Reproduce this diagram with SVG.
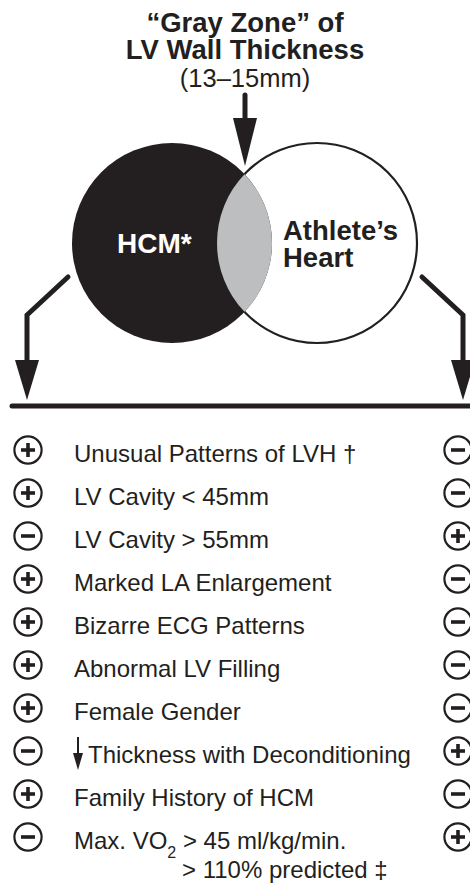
<svg xmlns="http://www.w3.org/2000/svg" xmlns:xlink="http://www.w3.org/1999/xlink" width="470" height="884" viewBox="0 0 470 884">
<style>
.t{font-family:"Liberation Sans",Arial,Helvetica,sans-serif;fill:#231f20}
.b{font-weight:bold;font-size:27.5px}
.r{font-size:24px}
.conn{fill:none;stroke:#231f20;stroke-width:5;stroke-linecap:round;stroke-linejoin:miter}
.sg{fill:#fff;stroke:#231f20;stroke-width:2.2}
.sl{stroke:#231f20;stroke-width:3.6;stroke-linecap:butt}
</style>
<defs>
<marker id="ah" markerUnits="userSpaceOnUse" viewBox="0 0 40 24" refX="8" refY="12" markerWidth="40" markerHeight="24" orient="auto">
<path d="M0,0 L40,12 L0,24 Z" fill="#231f20"/>
</marker>
<marker id="ahTop" markerUnits="userSpaceOnUse" viewBox="0 0 48 24" refX="8" refY="12" markerWidth="48" markerHeight="24" orient="auto">
<path d="M0,0 L48,12 L0,24 Z" fill="#231f20"/>
</marker>
<g id="plus"><circle class="sg" cx="0" cy="0" r="13.6"/><line class="sl" x1="-7" y1="0" x2="7" y2="0"/><line class="sl" x1="0" y1="-7" x2="0" y2="7"/></g>
<g id="minus"><circle class="sg" cx="0" cy="0" r="13.6"/><line class="sl" x1="-7" y1="0" x2="7" y2="0"/></g>
</defs>
<rect width="470" height="884" fill="#fff"/>

<g id="title">
<text class="t b" x="245" y="32" text-anchor="middle">“Gray Zone” of</text>
<text class="t b" x="245" y="59" text-anchor="middle">LV Wall Thickness</text>
<text class="t r" x="245" y="87" text-anchor="middle" style="font-size:25.5px">(13–15mm)</text>
</g>

<g id="athletes-heart">
<circle cx="317" cy="243" r="100" fill="#fff" stroke="#231f20" stroke-width="2.2"/>
<text class="t b" x="283" y="240">Athlete’s</text>
<text class="t b" x="283" y="267">Heart</text>
</g>
<g id="hcm">
<circle cx="172" cy="243" r="100" fill="#231f20"/>
<text class="t b" x="117" y="253" style="fill:#fff;font-size:28px">HCM*</text>
</g>
<g id="gray-zone">
<path d="M244.5,174.13 A100,100 0 0,0 244.5,311.87 A100,100 0 0,0 244.5,174.13 Z" fill="#bcbec0"/>
</g>

<g id="connectors">
<line class="conn" x1="245" y1="95" x2="245" y2="126" stroke-linecap="butt" marker-end="url(#ahTop)"/>
<polyline class="conn" points="68,277 27,315 27,368" marker-end="url(#ah)"/>
<polyline class="conn" points="422,277 463,315 463,368" marker-end="url(#ah)"/>
<line class="conn" x1="12" y1="406" x2="472" y2="406"/>
</g>

<g id="row1"><use xlink:href="#plus" x="28" y="450"/><text class="t r" x="74" y="462">Unusual Patterns of LVH †</text><use xlink:href="#minus" x="458" y="450"/></g>
<g id="row2"><use xlink:href="#plus" x="28" y="493"/><text class="t r" x="74" y="505">LV Cavity &lt; 45mm</text><use xlink:href="#minus" x="458" y="493"/></g>
<g id="row3"><use xlink:href="#minus" x="28" y="536"/><text class="t r" x="74" y="548">LV Cavity &gt; 55mm</text><use xlink:href="#plus" x="458" y="536"/></g>
<g id="row4"><use xlink:href="#plus" x="28" y="579"/><text class="t r" x="74" y="591">Marked LA Enlargement</text><use xlink:href="#minus" x="458" y="579"/></g>
<g id="row5"><use xlink:href="#plus" x="28" y="622"/><text class="t r" x="74" y="634">Bizarre ECG Patterns</text><use xlink:href="#minus" x="458" y="622"/></g>
<g id="row6"><use xlink:href="#plus" x="28" y="665"/><text class="t r" x="74" y="677">Abnormal LV Filling</text><use xlink:href="#minus" x="458" y="665"/></g>
<g id="row7"><use xlink:href="#plus" x="28" y="708"/><text class="t r" x="74" y="720">Female Gender</text><use xlink:href="#minus" x="458" y="708"/></g>
<g id="row8"><use xlink:href="#minus" x="28" y="751"/>
<line x1="78" y1="737" x2="78" y2="756" stroke="#231f20" stroke-width="2"/>
<path d="M73,753 L83,753 L78,770 Z" fill="#231f20"/>
<text class="t r" x="88" y="763">Thickness with Deconditioning</text><use xlink:href="#plus" x="458" y="751"/></g>
<g id="row9"><use xlink:href="#plus" x="28" y="794"/><text class="t r" x="74" y="806">Family History of HCM</text><use xlink:href="#minus" x="458" y="794"/></g>
<g id="row10"><use xlink:href="#minus" x="28" y="837"/>
<text class="t r" x="74" y="849">Max. VO<tspan dy="9" style="font-size:16px">2</tspan><tspan dy="-9"> &gt; 45 ml/kg/min.</tspan></text>
<text class="t r" x="182" y="878">&gt; 110% predicted ‡</text>
<use xlink:href="#plus" x="458" y="837"/></g>
</svg>
